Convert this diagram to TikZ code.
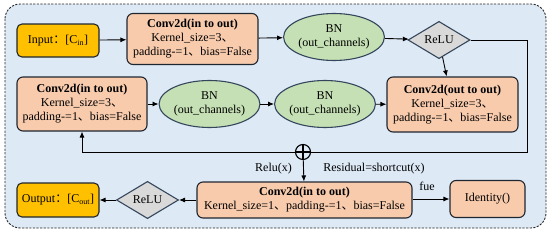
\documentclass[tikz,border=0pt]{standalone}
\usepackage{fontspec}
\setmainfont{Liberation Serif}
\newfontfamily\cjk{Noto Sans CJK SC}
\usetikzlibrary{shapes.geometric,arrows.meta}
\definecolor{bgblue}{HTML}{DEE9F6}
\definecolor{ioorange}{HTML}{FFC000}
\definecolor{convfill}{HTML}{F8CBAD}
\definecolor{bnfill}{HTML}{C5E0B4}
\definecolor{relufill}{HTML}{D9D9D9}
\definecolor{edgedark}{HTML}{1E2630}
\definecolor{slate}{HTML}{34465C}
\newcommand{\dun}{{\cjk 、}}
\newcommand{\fcolon}{{\cjk ：}}
\tikzset{
  x=1pt, y=-1pt,
  every node/.style={font=\fontsize{12}{14}\selectfont, align=center, inner sep=0pt},
  iobox/.style={draw=edgedark, line width=1.1pt, fill=ioorange, rounded corners=5pt},
  convbox/.style={draw=edgedark, line width=1.1pt, fill=convfill, rounded corners=6pt},
  bnell/.style={draw=slate, line width=1.1pt, fill=bnfill, ellipse, minimum width=97pt, minimum height=47pt},
  reludia/.style={draw=slate, line width=1.1pt, fill=relufill, diamond, minimum width=62pt, minimum height=34pt},
  conn/.style={line width=0.9pt, draw=black, -{Latex[length=6pt,width=5pt]}},
  plain/.style={line width=0.9pt, draw=black},
}
\begin{document}
\begin{tikzpicture}
\useasboundingbox (0,0) rectangle (550,233);
\draw[fill=bgblue, draw=black!85, dashed, dash pattern=on 2.2pt off 1.4pt, line width=0.9pt, rounded corners=15pt] (5,4) rectangle (546,228);

\node[iobox, minimum width=82pt, minimum height=33pt] (input) at (58,40.5) {Input\fcolon[C\textsubscript{in}]};
\node[convbox, minimum width=131pt, minimum height=51pt] (conv1) at (192.5,39) {\textbf{Conv2d(in to out)}\\Kernel\_size=3\dun\\padding-=1\dun bias=False};
\node[bnell] (bn1) at (334,37) {BN\\(out\_channels)};
\node[reludia] (relu1) at (439,40) {ReLU};

\node[convbox, minimum width=130pt, minimum height=54pt] (convL) at (82,104) {\textbf{Conv2d(in to out)}\\Kernel\_size=3\dun\\padding-=1\dun bias=False};
\node[bnell] (bn2) at (209.5,104) {BN\\(out\_channels)};
\node[bnell] (bn3) at (325,104) {BN\\(out\_channels)};
\node[convbox, minimum width=131pt, minimum height=55pt] (convR) at (452.5,104.5) {\textbf{Conv2d(out to out)}\\Kernel\_size=3\dun\\padding-=1\dun bias=False};

\node[circle, draw=black, line width=1.1pt, fill=bgblue, minimum size=15pt] (plus) at (303,152) {};
\draw[line width=1.1pt] (plus.north) -- (plus.south) (plus.west) -- (plus.east);

\node[convbox, minimum width=215pt, minimum height=36pt] (convB) at (304.5,200) {\textbf{Conv2d(in to out)}\\Kernel\_size=1\dun padding-=1\dun bias=False};
\node[convbox, minimum width=75pt, minimum height=37pt] (ident) at (487.5,199) {Identity()};
\node[reludia] (relu2) at (147.5,200) {ReLU};
\node[iobox, minimum width=82pt, minimum height=34pt] (output) at (58,200) {Output\fcolon[C\textsubscript{out}]};

\node (lrelu) at (273.5,169) {Relu(x)};
\node (lres) at (374,169) {Residual=shortcut(x)};
\node (lfue) at (427,186) {fue};

\coordinate (cTR) at (527,40);
\coordinate (cBR) at (527,152);

\draw[conn] (input) -- (conv1);
\draw[conn] (conv1) -- (bn1);
\draw[conn] (bn1) -- (relu1);
\draw[conn] (relu1) -- (convR);
\draw[conn] (convL) -- (bn2);
\draw[conn] (bn2) -- (bn3);
\draw[conn] (bn3) -- (convR);
\draw[plain] (relu1.east) -- (cTR) -- (cBR) -- (plus.east);
\draw[conn] (plus.west) -| (convL.south);
\draw[conn] (plus) -- (convB);
\draw[conn] (convB.east |- ident.west) -- (ident.west);
\draw[conn] (convB) -- (relu2);
\draw[conn] (relu2) -- (output);
\end{tikzpicture}
\end{document}
